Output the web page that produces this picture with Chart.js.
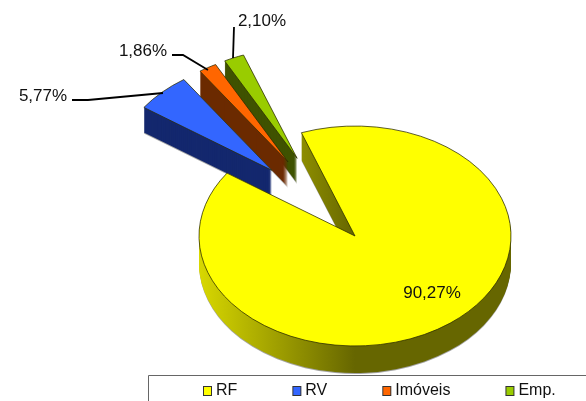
<!DOCTYPE html>
<html>
<head>
<meta charset="utf-8">
<style>
  html, body { margin: 0; padding: 0; background: #fff; }
  canvas { display: block; }
</style>
<script src="https://cdn.jsdelivr.net/npm/chart.js@4/dist/chart.umd.min.js"></script>
</head>
<body>
<canvas id="pie" width="586" height="401"></canvas>
<script>
const categories = ['RF', 'RV', 'Imóveis', 'Emp.'];
const shares = [90.27, 5.77, 1.86, 2.10];

const topColors = ['#ffff00', '#3366ff', '#ff6600', '#99cc00'];
const sideColors = ['#666600', '#14286e', '#6b2a00', '#3f5200'];

// where the flattened pie sits on the page
const CX = 355, CY = 236, RX = 156, SQUASH = 0.705, DEPTH = 27, WEDGE_DEPTH = 25, EXPLODE = 127, WEDGE_DROP = 2;
// the wedges fly out in a narrower fan than their own mid angles
const FAN_AXIS = (270 - 33.4) * Math.PI / 180, FAN_SPREAD = 0.66;

// label centres and leader lines, same order as the categories
const labelSpots = [[432, 293], [43, 96], [143, 51], [262, 21]];
const leaders = [
  null,
  [[72, 100], [88, 100], [163, 93]],
  [[172, 55], [183, 55], [208, 70]],
  [[234, 27], [233, 58]]
];

function swatch(color) {
  const c = document.createElement('canvas');
  c.width = 21;
  c.height = 10;
  const g = c.getContext('2d');
  g.fillStyle = color;
  g.fillRect(8.5, 0.5, 8, 9);
  g.strokeStyle = '#333';
  g.strokeRect(8.5, 0.5, 8, 9);
  return c;
}

function drawSlice(ctx, el, i, scale, depth, options) {
  const mid = (el.startAngle + el.endAngle) / 2;
  const dir = FAN_AXIS + (mid - FAN_AXIS) * FAN_SPREAD;
  const off = i === 0 ? 0 : EXPLODE / scale;
  const saved = el.options;
  el.options = Object.assign({}, saved, options);
  ctx.save();
  ctx.translate(CX, CY + depth + (i === 0 ? 0 : WEDGE_DROP));
  ctx.scale(scale, scale * SQUASH);
  ctx.translate(-el.x, -el.y);
  ctx.translate(Math.cos(dir) * off, Math.sin(dir) * off);
  el.draw(ctx);
  ctx.restore();
  el.options = saved;
}

const pie3d = {
  id: 'pie3d',
  afterLayout(chart) {
    // legend keeps its native drawing, only its box is moved into the frame
    const legend = chart.legend;
    legend.left = 148;
    legend.right = 760;
    legend.top = 328;
  },
  beforeDatasetDraw(chart) {
    const ctx = chart.ctx;
    const arcs = chart.getDatasetMeta(0).data;
    const R = arcs[0].outerRadius;
    const scale = RX / R;
    // painter's order: small wedges from the back, big slice last
    [3, 2, 1, 0].forEach(i => {
      const el = arcs[i];
      const depth = i === 0 ? DEPTH : WEDGE_DEPTH;
      let fill = sideColors[i];
      if (i === 0) {
        fill = ctx.createLinearGradient(el.x - R, 0, el.x + R, 0);
        fill.addColorStop(0, '#d8d800');
        fill.addColorStop(0.5, '#666600');
        fill.addColorStop(1, '#666600');
      }
      drawSlice(ctx, el, i, scale, depth + 1, { backgroundColor: 'rgba(90,90,90,0.55)', borderWidth: 0 });
      for (let d = depth; d > 0; d--) {
        drawSlice(ctx, el, i, scale, d, { backgroundColor: fill, borderWidth: 0 });
      }
      drawSlice(ctx, el, i, scale, 0, {});
    });
    return false;
  },
  afterDraw(chart) {
    const ctx = chart.ctx;
    ctx.save();
    ctx.strokeStyle = '#666';
    ctx.lineWidth = 1;
    ctx.beginPath();
    ctx.moveTo(148.5, 401);
    ctx.lineTo(148.5, 375.5);
    ctx.lineTo(586, 375.5);
    ctx.stroke();

    ctx.strokeStyle = '#000';
    ctx.lineWidth = 1.8;
    leaders.forEach(line => {
      if (!line) return;
      ctx.beginPath();
      line.forEach((p, k) => k ? ctx.lineTo(p[0], p[1]) : ctx.moveTo(p[0], p[1]));
      ctx.stroke();
    });

    ctx.fillStyle = '#111';
    ctx.font = '17px "Liberation Sans"';
    ctx.textAlign = 'center';
    ctx.textBaseline = 'middle';
    shares.forEach((v, i) => {
      const text = v.toFixed(2).replace('.', ',') + '%';
      ctx.fillText(text, labelSpots[i][0], labelSpots[i][1]);
    });
    ctx.restore();
  }
};

new Chart(document.getElementById('pie'), {
  type: 'pie',
  data: {
    labels: categories,
    datasets: [{
      data: shares,
      backgroundColor: topColors,
      borderColor: '#2a2a00',
      borderWidth: 0.9
    }]
  },
  options: {
    responsive: false,
    animation: false,
    rotation: -20.1,
    plugins: {
      tooltip: { enabled: false },
      legend: {
        position: 'bottom',
        align: 'start',
        labels: {
          usePointStyle: true,
          boxWidth: 5,
          padding: 55,
          color: '#111',
          font: { family: '"Liberation Sans"', size: 16 },
          generateLabels: () => categories.map((text, i) => ({
            text: text,
            index: i,
            fontColor: '#111',
            pointStyle: swatch(topColors[i])
          }))
        }
      }
    }
  },
  plugins: [pie3d]
});
</script>
</body>
</html>
